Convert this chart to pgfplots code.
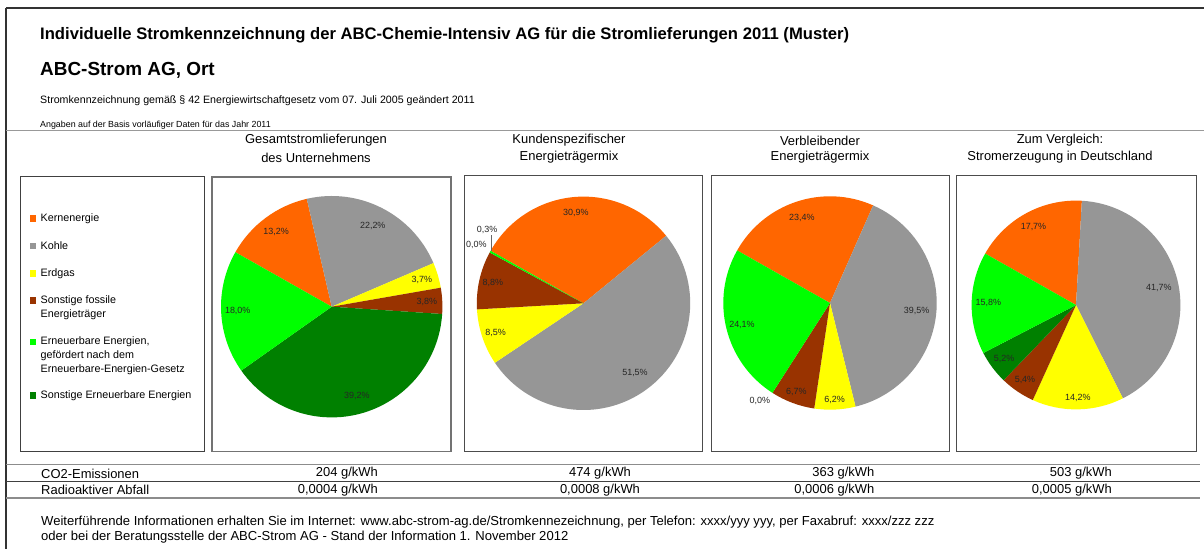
\documentclass[border=0pt]{standalone}
\usepackage{pgfplots}
\pgfplotsset{compat=1.18}
\usepackage{pgfplotstable}
\usepackage{fontspec}
\setmainfont{Liberation Sans}
\definecolor{kern}{HTML}{FF6600}
\definecolor{kohle}{HTML}{969696}
\definecolor{erdgas}{HTML}{FFFF00}
\definecolor{fossil}{HTML}{993300}
\definecolor{eeg}{HTML}{00FF00}
\definecolor{sonstee}{HTML}{008000}

% slice order, clockwise: Kernenergie, Kohle, Erdgas, Sonstige fossile, Sonstige EE, EEG
% v = share in %, f = label distance (fraction of radius), da = label angle shift
\pgfplotstableread{
v    f     da
13.2 0.84  0
22.2 0.82  0
3.7  0.85  0
3.8  0.86  0
39.2 0.84  0
18.0 0.85  0
}\pieA
\pgfplotstableread{
v    f     da
30.9 0.85  0
51.5 0.81  0
8.5  0.87  0
8.8  0.87  0
0.0  1.142 0
0.3  1.134 -8.2
}\pieB
\pgfplotstableread{
v    f     da
23.4 0.84  0
39.5 0.815 0
6.2  0.91  0
6.7  0.895 0
0.0  1.127 -3
24.1 0.85  0
}\pieC
\pgfplotstableread{
v    f     da
17.7 0.85  0
41.7 0.81  0
14.2 0.89  0
5.4  0.87  0
5.2  0.86  0
15.8 0.84  0
}\pieD

\newcommand\drawpie[3]{% #1 table, #2 radius (bp), #3 start angle
  \pgfplotstablegetrowsof{#1}%
  \pgfmathtruncatemacro\pielast{\pgfplotsretval-1}%
  \gdef\pietotal{0}%
  \foreach \i in {0,...,\pielast}{%
    \pgfplotstablegetelem{\i}{v}\of{#1}%
    \pgfmathsetmacro\tmp{\pietotal+\pgfplotsretval}%
    \xdef\pietotal{\tmp}}%
  \xdef\pieang{#3}%
  \foreach \i/\c in {0/kern,1/kohle,2/erdgas,3/fossil,4/sonstee,5/eeg}{%
    \pgfplotstablegetelem{\i}{v}\of{#1}\let\pv\pgfplotsretval
    \pgfmathsetmacro\pend{\pieang-\pv/\pietotal*360}%
    \pgfmathsetmacro\sx{#2*cos(\pieang)}%
    \pgfmathsetmacro\sy{#2*sin(\pieang)}%
    \ifdim\pv pt>0pt
      \fill[\c] (axis cs:0,0) -- (axis cs:\sx,\sy) arc[start angle=\pieang, end angle=\pend, radius=#2bp] -- cycle;
    \fi
    \xdef\pieang{\pend}}%
  \xdef\pieang{#3}%
  \foreach \i in {0,...,\pielast}{%
    \pgfplotstablegetelem{\i}{v}\of{#1}\let\pv\pgfplotsretval
    \pgfplotstablegetelem{\i}{f}\of{#1}\let\pf\pgfplotsretval
    \pgfplotstablegetelem{\i}{da}\of{#1}\let\pda\pgfplotsretval
    \pgfmathsetmacro\pend{\pieang-\pv/\pietotal*360}%
    \pgfmathsetmacro\pmid{(\pieang+\pend)/2+\pda}%
    \pgfmathsetmacro\lx{\pf*#2*cos(\pmid)}%
    \pgfmathsetmacro\ly{\pf*#2*sin(\pmid)}%
    \node[font=\fontsize{9}{10}\selectfont, text=black!85, inner sep=0pt] at (axis cs:\lx,\ly)
      {\pgfmathprintnumber[fixed,fixed zerofill,precision=1,use comma,assume math mode=true]{\pv}\%};
    \xdef\pieang{\pend}}%
}

\pgfplotsset{pieaxis/.style={anchor=center, x=1bp, y=1bp, xmin=-130, xmax=130, ymin=-130, ymax=130, hide axis, clip=false}}

\begin{document}
\begin{tikzpicture}[x=1bp,y=-1bp]
\useasboundingbox (0,0) rectangle (1204,549);
\fill[white] (0,0) rectangle (1204,549);
% frame
\draw[black!80, line width=1.5bp] (6,8) -- (1204,8);
\draw[black!80, line width=1.5bp] (6,8) -- (6,549);
\draw[black!40, line width=1.5bp] (6,130.5) -- (1204,130.5);
% titles
\node[anchor=west, inner sep=0pt, font=\fontsize{16.7}{19}\selectfont\bfseries] at (40,35.5) {Individuelle Stromkennzeichnung der ABC-Chemie-Intensiv AG für die Stromlieferungen 2011 (Muster)};
\node[anchor=west, inner sep=0pt, font=\fontsize{19}{22}\selectfont\bfseries] at (40,70.5) {ABC-Strom AG, Ort};
\node[anchor=west, inner sep=0pt, font=\fontsize{10.7}{12}\selectfont] at (40,100.5) {Stromkennzeichnung gemäß § 42 Energiewirtschaftgesetz vom 07. Juli 2005 geändert 2011};
\node[anchor=west, inner sep=0pt, font=\fontsize{8.9}{10}\selectfont] at (40,125) {Angaben auf der Basis vorläufiger Daten für das Jahr 2011};
% column headers
\begin{scope}[every node/.style={inner sep=0pt, font=\fontsize{13}{15}\selectfont}]
\node at (316,140.5) {Gesamtstromlieferungen};
\node at (316,157.5) {des Unternehmens};
\node at (569,140.5) {Kundenspezifischer};
\node at (569,157.5) {Energieträgermix};
\node at (820,140.5) {Verbleibender};
\node at (820,157.5) {Energieträgermix};
\node at (1060,140.5) {Zum Vergleich:};
\node at (1060,157.5) {Stromerzeugung in Deutschland};
\end{scope}
% boxes
\draw[black!75, line width=1bp] (20.5,176.5) rectangle (204.5,451.5);
\draw[black!55, line width=1.2bp] (212,177) rectangle (451,451.5);
\draw[black!70, line width=1bp] (464,176) rectangle (702.5,451);
\draw[black!70, line width=1bp] (711,176) rectangle (949,451);
\draw[black!70, line width=1bp] (956,176) rectangle (1196,451);
% legend
\begin{scope}[every node/.style={anchor=west, inner sep=0pt, font=\fontsize{10.8}{13}\selectfont}]
\fill[kern] (29.5,215.5) rectangle (36,222);
\node at (40.5,218.7) {Kernenergie};
\fill[kohle] (29.5,243) rectangle (36,249.5);
\node at (40.5,246) {Kohle};
\fill[erdgas] (29.5,270.5) rectangle (36,277);
\node at (40.5,273.7) {Erdgas};
\fill[fossil] (29.5,297.5) rectangle (36,304);
\node at (40.5,300.7) {Sonstige fossile};
\node at (40.5,314.3) {Energieträger};
\fill[eeg] (29.5,338.8) rectangle (36,345.3);
\node at (40.5,342) {Erneuerbare Energien,};
\node at (40.5,356) {gefördert nach dem};
\node at (40.5,370) {Erneuerbare-Energien-Gesetz};
\fill[sonstee] (29.5,392.5) rectangle (36,399);
\node at (40.5,395.7) {Sonstige Erneuerbare Energien};
\end{scope}
% pies
\begin{axis}[pieaxis, at={(331.7bp,-306.7bp)}]
\addplot[draw=none, forget plot] coordinates {(0,0)};
\pgfplotsextra{\drawpie{\pieA}{110.7}{150.5}}
\end{axis}
\begin{axis}[pieaxis, at={(583.5bp,-303.3bp)}]
\addplot[draw=none, forget plot] coordinates {(0,0)};
\pgfplotsextra{\drawpie{\pieB}{106.7}{150.5}%
  \draw[black!60, line width=0.8bp] (axis cs:-92.5,52.3) -- (axis cs:-92.5,68.5);}
\end{axis}
\begin{axis}[pieaxis, at={(830bp,-303bp)}]
\addplot[draw=none, forget plot] coordinates {(0,0)};
\pgfplotsextra{\drawpie{\pieC}{106.7}{150.5}}
\end{axis}
\begin{axis}[pieaxis, at={(1076bp,-305bp)}]
\addplot[draw=none, forget plot] coordinates {(0,0)};
\pgfplotsextra{\drawpie{\pieD}{104.4}{150.5}}
\end{axis}
% table
\draw[black!45, line width=1.2bp] (6,464.5) -- (1200,464.5);
\draw[black!75, line width=1.2bp] (6,481.5) -- (1200,481.5);
\draw[black!45, line width=1.2bp] (6,498) -- (1200,498);
\begin{scope}[every node/.style={inner sep=0pt, font=\fontsize{13}{15}\selectfont}]
\node[anchor=west] at (41,473.5) {CO2-Emissionen};
\node[anchor=west] at (41,490) {Radioaktiver Abfall};
\node[anchor=east] at (378,473.5) {204 g/kWh};
\node[anchor=east] at (378,490) {0,0004 g/kWh};
\node at (600,473.5) {474 g/kWh};
\node at (600,490) {0,0008 g/kWh};
\node[anchor=east] at (874.5,473.5) {363 g/kWh};
\node[anchor=east] at (874.5,490) {0,0006 g/kWh};
\node[anchor=east] at (1112,473.5) {503 g/kWh};
\node[anchor=east] at (1112,490) {0,0005 g/kWh};
\end{scope}
% footer
\begin{scope}[every node/.style={anchor=west, inner sep=0pt, font=\fontsize{13.1}{15}\selectfont}]
\node at (41,522) {Weiterführende Informationen erhalten Sie im Internet: www.abc-strom-ag.de/Stromkennezeichnung, per Telefon: xxxx/yyy yyy, per Faxabruf: xxxx/zzz zzz};
\node at (41,537) {oder bei der Beratungsstelle der ABC-Strom AG - Stand der Information 1. November 2012};
\end{scope}
\end{tikzpicture}
\end{document}
